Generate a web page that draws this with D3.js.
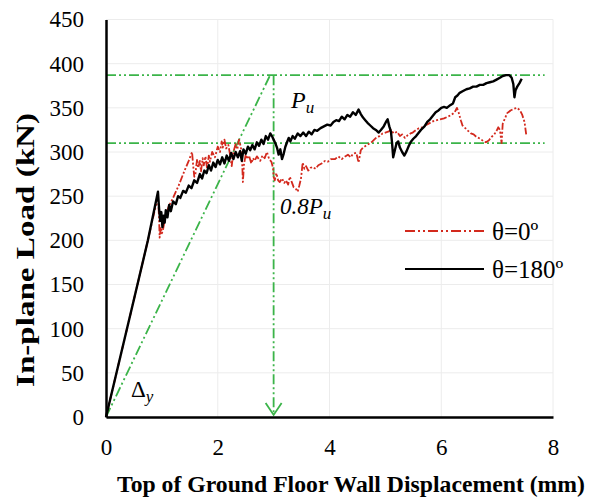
<!DOCTYPE html>
<html>
<head>
<meta charset="utf-8">
<script src="https://cdn.jsdelivr.net/npm/d3@7"></script>
<style>
  html, body { margin: 0; padding: 0; background: #fff; }
  svg { display: block; font-family: "Liberation Serif", "Times New Roman", serif; }
</style>
</head>
<body>
<svg id="chart" width="597" height="498"></svg>
<script>
// Load–displacement curves (displacement mm, load kN)
const theta0 = [
  [0,0],[0.47,125],[0.75,200],[0.93,250],[0.95,225],[0.96,203],[0.98,215],[1.0,208],[1.02,212],
  [1.06,226],[1.12,238],[1.20,248],[1.30,262],[1.40,278],[1.48,290],[1.54,300],[1.56,285],
  [1.58,272],[1.60,275],[1.63,292],[1.65,282],[1.68,290],[1.70,278],[1.73,293],[1.75,285],
  [1.78,295],[1.81,281],[1.84,296],[1.86,289],[1.90,300],[1.95,294],[2.00,306],[2.04,300],
  [2.07,312],[2.09,305],[2.12,314],[2.15,304],[2.19,308],[2.22,297],[2.25,284],[2.28,300],
  [2.32,309],[2.35,303],[2.38,314],[2.40,309],[2.43,300],[2.45,266],[2.47,286],[2.50,297],
  [2.52,292],[2.56,296],[2.60,287],[2.63,293],[2.66,290],[2.70,295],[2.76,290],[2.80,296],
  [2.84,293],[2.88,300],[2.92,292],[2.96,289],[2.99,282],[3.00,272],[3.02,268],[3.05,276],
  [3.08,268],[3.11,266],[3.15,270],[3.19,265],[3.22,268],[3.26,263],[3.29,272],[3.33,265],
  [3.36,260],[3.40,258],[3.43,255],[3.46,262],[3.49,270],[3.52,288],[3.55,281],[3.58,284],
  [3.62,279],[3.66,282],[3.70,283],[3.75,281],[3.80,285],[3.86,287],[3.92,290],[3.97,289],
  [4.03,292],[4.10,292],[4.16,295],[4.22,292],[4.28,295],[4.33,297],[4.38,294],[4.42,298],
  [4.48,299],[4.52,288],[4.56,302],[4.60,305],[4.65,307],[4.70,309],[4.75,311],[4.80,314],
  [4.85,317],[4.90,318],[4.95,321],[5.00,322],[5.05,323],[5.10,325],[5.15,321],[5.21,323],
  [5.26,318],[5.30,320],[5.35,316],[5.40,319],[5.45,321],[5.49,322],[5.55,325],[5.60,327],
  [5.67,328],[5.74,331],[5.80,333],[5.86,335],[5.92,336],[5.98,337],[6.05,338],[6.12,340],
  [6.18,342],[6.24,345],[6.28,350],[6.31,345],[6.35,336],[6.38,330],[6.43,327],[6.48,324],
  [6.53,321],[6.58,320],[6.63,317],[6.70,315],[6.76,312],[6.80,311],[6.85,313],[6.90,317],
  [6.95,320],[6.99,324],[7.02,328],[7.05,325],[7.08,310],[7.10,332],[7.14,338],[7.18,344],
  [7.24,347],[7.30,349],[7.36,350],[7.41,347],[7.45,342],[7.49,334],[7.52,320]
];

const theta180 = [
  [0,0],[0.47,125],[0.75,200],[0.93,255],[0.95,236],[0.97,222],[0.99,232],[1.01,215],[1.03,228],
  [1.05,220],[1.07,234],[1.10,226],[1.13,240],[1.16,233],[1.20,244],[1.25,241],[1.29,250],
  [1.33,248],[1.38,256],[1.43,254],[1.48,262],[1.53,259],[1.58,268],[1.63,265],[1.68,275],
  [1.72,270],[1.76,279],[1.80,276],[1.84,285],[1.88,279],[1.92,288],[1.96,283],[2.00,291],
  [2.04,286],[2.08,294],[2.12,287],[2.16,296],[2.20,290],[2.24,299],[2.28,292],[2.32,300],
  [2.36,294],[2.40,301],[2.43,290],[2.46,303],[2.50,298],[2.54,306],[2.58,302],[2.62,308],
  [2.66,303],[2.70,311],[2.74,307],[2.78,314],[2.82,309],[2.86,318],[2.90,314],[2.94,321],
  [2.97,318],[3.00,314],[3.03,310],[3.06,305],[3.09,297],[3.12,303],[3.15,292],[3.18,298],
  [3.21,306],[3.24,311],[3.27,316],[3.30,312],[3.34,318],[3.38,315],[3.43,321],[3.48,318],
  [3.53,322],[3.58,318],[3.63,323],[3.68,320],[3.73,325],[3.78,324],[3.84,327],[3.90,329],
  [3.96,331],[4.02,330],[4.07,334],[4.12,336],[4.17,335],[4.22,340],[4.27,337],[4.32,342],
  [4.37,340],[4.42,345],[4.47,342],[4.52,348],[4.56,343],[4.60,339],[4.64,336],[4.68,333],
  [4.73,330],[4.78,327],[4.83,325],[4.88,322],[4.92,325],[4.97,329],[5.01,334],[5.04,337],
  [5.07,329],[5.10,323],[5.12,310],[5.14,294],[5.17,302],[5.20,310],[5.23,312],[5.26,305],
  [5.30,300],[5.34,296],[5.38,301],[5.42,307],[5.46,312],[5.50,315],[5.55,318],[5.60,322],
  [5.65,326],[5.70,329],[5.75,334],[5.80,337],[5.85,341],[5.90,345],[5.95,347],[6.00,350],
  [6.05,351],[6.10,350],[6.16,353],[6.21,355],[6.25,362],[6.29,364],[6.33,367],[6.39,369],
  [6.45,371],[6.51,372],[6.57,374],[6.63,374],[6.69,376],[6.75,376],[6.81,378],[6.87,379],
  [6.93,380],[6.99,382],[7.05,384],[7.10,386],[7.16,387],[7.22,387],[7.26,384],[7.29,377],
  [7.31,362],[7.33,370],[7.36,374],[7.40,378],[7.44,383]
];

// Reference construction: ultimate load, 0.8 of it, and the yield secant
const Pu = 387;
const Pu08 = 310;
const dUltimate = 3.0;
const yieldSecant = [[0,0],[2.93,386]];
const guideEnd = 7.85;

const xTicks = [0, 2, 4, 6, 8];
const yTicks = [0, 50, 100, 150, 200, 250, 300, 350, 400, 450];
const seriesNames = ["θ=0º", "θ=180º"];

const svg = d3.select("#chart");
const x = d3.scaleLinear().domain([0, 8]).range([106, 553]);
const y = d3.scaleLinear().domain([0, 450]).range([417, 19.5]);

const RED = "#d3291d";
const GREEN = "#3bb449";
const DASH = "10,3,2,3,2,3";

// grid
const grid = svg.append("g").attr("stroke", "#ececec").attr("stroke-width", 1);
grid.selectAll("line.h").data(yTicks.slice(1)).join("line")
  .attr("x1", x(0)).attr("x2", x(8)).attr("y1", d => y(d)).attr("y2", d => y(d));
grid.selectAll("line.v").data(xTicks.slice(1)).join("line")
  .attr("y1", y(0)).attr("y2", y(450)).attr("x1", d => x(d)).attr("x2", d => x(d));

// guide lines
const guides = svg.append("g").attr("stroke", GREEN).attr("stroke-width", 1.8)
  .attr("fill", "none").attr("stroke-dasharray", DASH);
guides.append("line").attr("x1", x(0)).attr("x2", x(guideEnd)).attr("y1", y(Pu)).attr("y2", y(Pu));
guides.append("line").attr("x1", x(0)).attr("x2", x(guideEnd)).attr("y1", y(Pu08)).attr("y2", y(Pu08));
guides.append("line").attr("x1", x(dUltimate)).attr("x2", x(dUltimate)).attr("y1", y(Pu)).attr("y2", y(0) - 3);
guides.append("line")
  .attr("x1", x(yieldSecant[0][0])).attr("y1", y(yieldSecant[0][1]))
  .attr("x2", x(yieldSecant[1][0])).attr("y2", y(yieldSecant[1][1]));
// arrow head at the bottom of the vertical guide
svg.append("path")
  .attr("d", `M${x(dUltimate) - 8},${y(0) - 14} L${x(dUltimate)},${y(0) - 2} L${x(dUltimate) + 8},${y(0) - 14}`)
  .attr("fill", "none").attr("stroke", GREEN).attr("stroke-width", 1.8);

// curves
const line = d3.line().x(d => x(d[0])).y(d => y(d[1]));
svg.append("path").datum(theta0).attr("d", line)
  .attr("fill", "none").attr("stroke", RED).attr("stroke-width", 1.8)
  .attr("stroke-dasharray", "7,2,2,2,2,2").attr("stroke-linejoin", "round");
svg.append("path").datum(theta180).attr("d", line)
  .attr("fill", "none").attr("stroke", "#000").attr("stroke-width", 2.4)
  .attr("stroke-linejoin", "round");

// axes
const yAxis = svg.append("g").attr("transform", `translate(${x(0)},0)`)
  .call(d3.axisLeft(y).tickValues(yTicks).tickSize(0).tickSizeOuter(0).tickPadding(22));
const xAxis = svg.append("g").attr("transform", `translate(0,${y(0)})`)
  .call(d3.axisBottom(x).tickValues(xTicks).tickSize(0).tickSizeOuter(0).tickPadding(22));
[yAxis, xAxis].forEach(a => {
  a.select(".domain").attr("stroke", "#000").attr("stroke-width", 2.5);
  a.selectAll("text").attr("font-family", "Liberation Serif, serif").attr("font-size", 23).attr("fill", "#000");
});

// axis titles
svg.append("text")
  .attr("x", 351).attr("y", 492).attr("text-anchor", "middle")
  .attr("font-size", 24).attr("font-weight", "bold")
  .attr("textLength", 468).attr("lengthAdjust", "spacingAndGlyphs")
  .text("Top of Ground Floor Wall Displacement (mm)");
svg.append("text")
  .attr("transform", "translate(34,250) rotate(-90)")
  .attr("text-anchor", "middle").attr("font-size", 25).attr("font-weight", "bold")
  .attr("textLength", 274).attr("lengthAdjust", "spacingAndGlyphs")
  .text("In-plane Load (kN)");

// annotations
const pu = svg.append("text").attr("x", 291).attr("y", 108).attr("font-size", 24).attr("font-style", "italic");
pu.append("tspan").text("P");
pu.append("tspan").attr("font-size", 17).attr("dy", 5).text("u");

const pu8 = svg.append("text").attr("x", 280).attr("y", 214).attr("font-size", 23).attr("font-style", "italic");
pu8.append("tspan").text("0.8P");
pu8.append("tspan").attr("font-size", 17).attr("dy", 5).text("u");

const dy = svg.append("text").attr("x", 131).attr("y", 397).attr("font-size", 23);
dy.append("tspan").text("Δ");
dy.append("tspan").attr("font-size", 17).attr("dy", 5).attr("font-style", "italic").text("y");

// legend
const legend = svg.append("g");
const legendRows = [
  { name: seriesNames[0], color: RED, dash: "10,3,2,3,2,3", w: 1.8, yy: 231 },
  { name: seriesNames[1], color: "#000", dash: null, w: 1.8, yy: 269 }
];
legendRows.forEach(r => {
  legend.append("line").attr("x1", 405).attr("x2", 484).attr("y1", r.yy).attr("y2", r.yy)
    .attr("stroke", r.color).attr("stroke-width", r.w).attr("stroke-dasharray", r.dash);
  legend.append("text").attr("x", 492).attr("y", r.yy).attr("dy", "0.35em")
    .attr("font-size", 25).text(r.name);
});
</script>
</body>
</html>
